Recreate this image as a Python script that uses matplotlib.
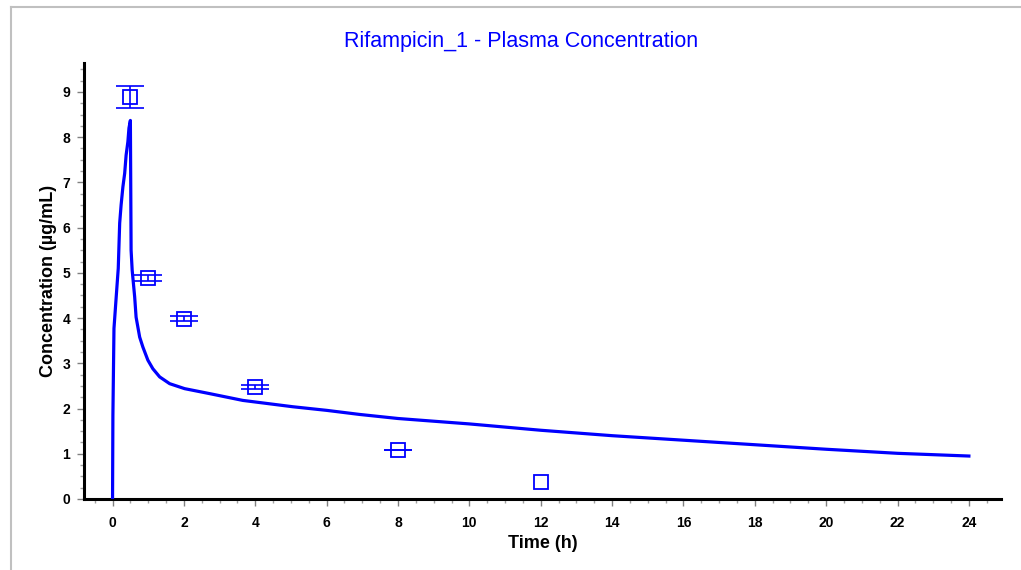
import numpy as np
import matplotlib
matplotlib.use("Agg")
from matplotlib import pyplot as plt
from matplotlib.ticker import MultipleLocator

plt.rcParams['font.family'] = ['Liberation Sans', 'DejaVu Sans']

# simulated plasma concentration
sim_t = [0.0, 0.01, 0.04, 0.10, 0.16, 0.18, 0.20, 0.24, 0.29, 0.34, 0.38, 0.43, 0.46, 0.50,
         0.52, 0.55, 0.62, 0.66, 0.71, 0.76, 0.85, 0.99, 1.13, 1.32, 1.60, 2.02, 2.72,
         3.65, 5.05, 6.0, 6.92, 8.0, 10.0, 12.0, 14.0, 16.0, 18.0, 20.0, 22.0, 24.0]
sim_c = [0.0, 1.85, 3.77, 4.44, 5.10, 5.60, 6.10, 6.50, 6.90, 7.20, 7.60, 7.90, 8.20, 8.37,
         5.50, 5.06, 4.47, 4.02, 3.80, 3.58, 3.36, 3.07, 2.88, 2.70, 2.55, 2.44, 2.33,
         2.18, 2.04, 1.96, 1.87, 1.78, 1.66, 1.52, 1.40, 1.30, 1.20, 1.10, 1.01, 0.95]

# observed data
obs_t = [0.5, 1, 2, 4, 8, 12]
obs_c = [8.89, 4.89, 3.99, 2.48, 1.08, 0.38]
obs_err = [0.25, 0.06, 0.06, 0.05, 0.0, np.nan]

BLUE = '#0000ff'

fig = plt.figure(figsize=(10.21, 5.70), dpi=100)
ax = fig.add_axes([84 / 1021, 71 / 570, 917 / 1021, 436 / 570])

ax.plot(sim_t, sim_c, color=BLUE, lw=2.3, zorder=3)

err = np.array(obs_err)
ok = ~np.isnan(err)
ax.errorbar(np.array(obs_t)[ok], np.array(obs_c)[ok], yerr=err[ok], fmt='none',
            ecolor=BLUE, elinewidth=1.2, capsize=10, capthick=1.2, zorder=4)
ax.plot(obs_t, obs_c, ls='none', marker='s', ms=9.5, mfc='none', mec=BLUE, mew=1.3, zorder=5)

ax.set_xlim(-0.8, 24.9)
ax.set_ylim(0, 9.64)
ax.xaxis.set_major_locator(MultipleLocator(2))
ax.xaxis.set_minor_locator(MultipleLocator(0.5))
ax.yaxis.set_major_locator(MultipleLocator(1))
ax.yaxis.set_minor_locator(MultipleLocator(0.25))

for side in ['top', 'right']:
    ax.spines[side].set_visible(False)
for side in ['left', 'bottom']:
    ax.spines[side].set_linewidth(2.2)
    ax.spines[side].set_color('black')

ax.tick_params(which='major', direction='out', length=5, width=1, color='#808080',
               labelsize=10, pad=5)
ax.tick_params(axis='x', which='major', pad=7)
ax.tick_params(which='minor', direction='out', length=3, width=1, color='#a0a0a0')
for lab in ax.get_xticklabels() + ax.get_yticklabels():
    lab.set_fontweight('bold')

ax.set_xlabel('Time (h)', fontsize=13, fontweight='bold', labelpad=4)
ax.set_ylabel('Concentration (µg/mL)', fontsize=13, fontweight='bold', labelpad=4)

fig.text(521 / 1021, 1 - 42 / 570, 'Rifampicin_1 - Plasma Concentration', color=BLUE,
         fontsize=15.5, ha='center', va='center')

# thin grey frame around the plot area
fig.add_artist(plt.Line2D([11 / 1021, 11 / 1021], [0, 1 - 7 / 570], color='#c0c0c0',
                          lw=1.5, transform=fig.transFigure))
fig.add_artist(plt.Line2D([11 / 1021, 1], [1 - 7 / 570, 1 - 7 / 570], color='#c0c0c0',
                          lw=1.5, transform=fig.transFigure))

fig.savefig('out.png', dpi=100)
